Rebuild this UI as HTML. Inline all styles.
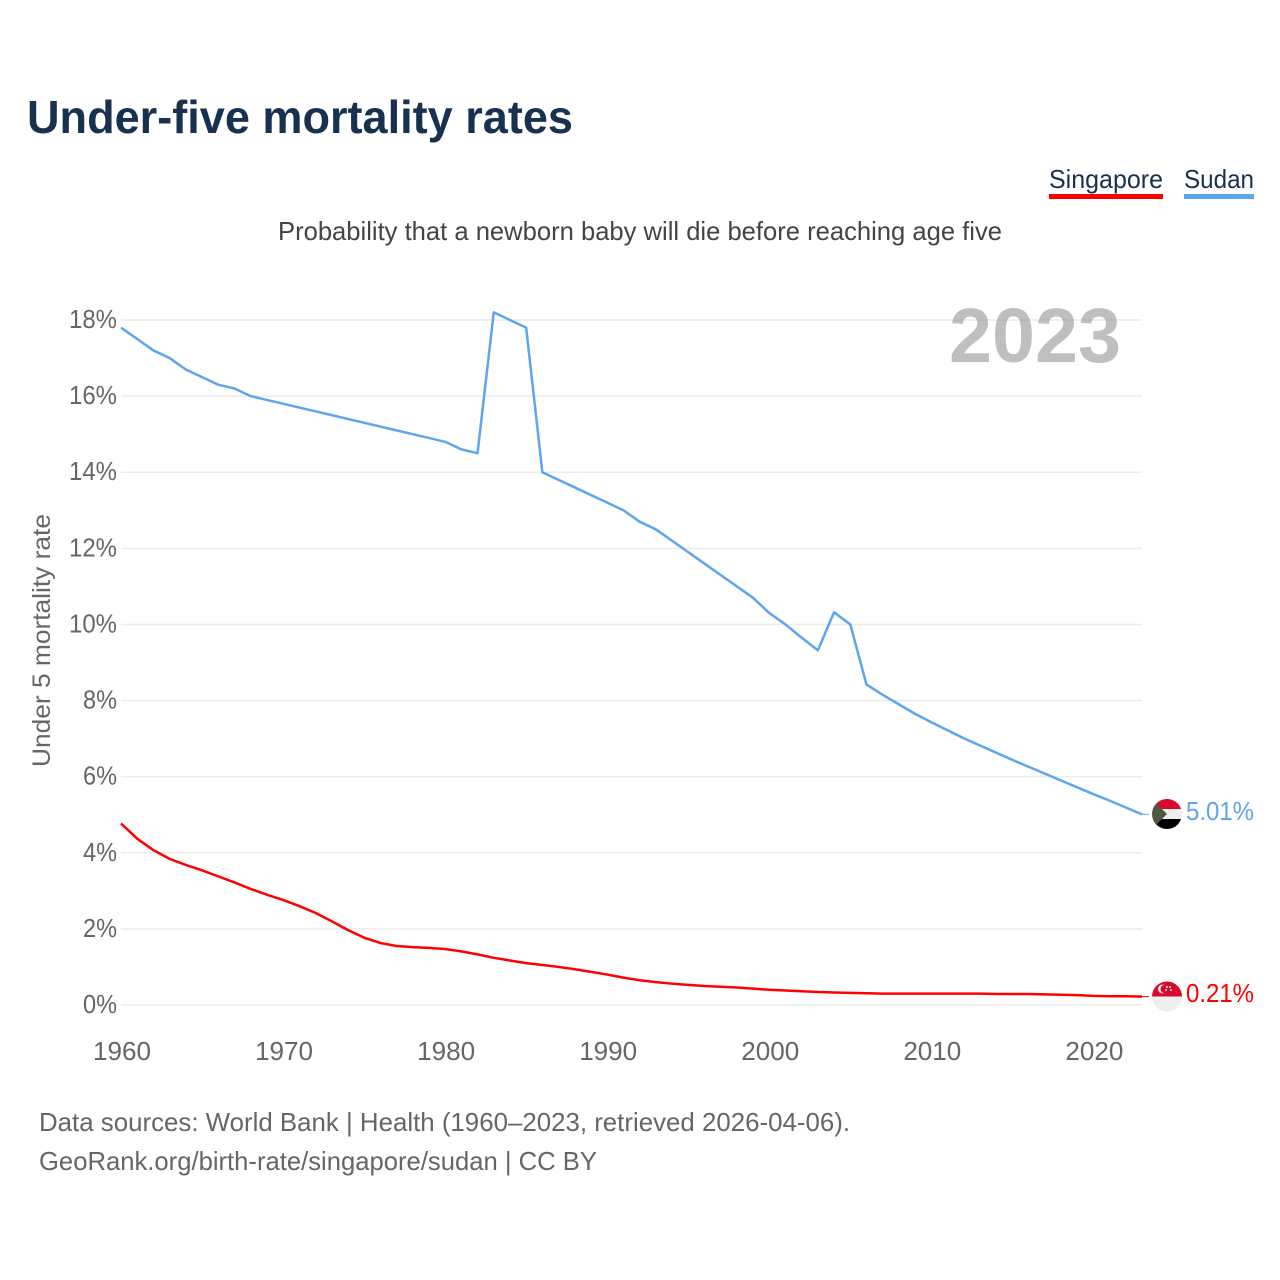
<!DOCTYPE html>
<html lang="en">
<head>
<meta charset="utf-8">
<title>Under-five mortality rates</title>
<style>
html,body{margin:0;padding:0;background:#fff;width:1280px;height:1280px;overflow:hidden}
svg{display:block}
text{font-family:"Liberation Sans",sans-serif}
.tick{font-size:26px;fill:#666}
</style>
</head>
<body>
<svg id="chart" width="1280" height="1280" viewBox="0 0 1280 1280" xmlns="http://www.w3.org/2000/svg">
  <defs>
    <clipPath id="flag-clip-sudan"><circle cx="1167" cy="814" r="15"/></clipPath>
    <clipPath id="flag-clip-singapore"><circle cx="1167" cy="996.500" r="15"/></clipPath>
  </defs>
  <rect x="0" y="0" width="1280" height="1280" fill="#fff"/>
  <text x="27" y="133" font-size="46" font-weight="700" fill="#18314f" textLength="546" lengthAdjust="spacingAndGlyphs">Under-five mortality rates</text>
  <g>
    <text x="1049" y="188" font-size="26" fill="#18314f" textLength="114" lengthAdjust="spacingAndGlyphs">Singapore</text>
    <rect x="1049" y="194" width="114" height="5" fill="#ff0000"/>
  </g>
  <g>
    <text x="1184" y="188" font-size="26" fill="#18314f" textLength="70" lengthAdjust="spacingAndGlyphs">Sudan</text>
    <rect x="1184" y="194" width="70" height="5" fill="#5da6ee"/>
  </g>
  <text x="278" y="240" font-size="26" fill="#444" textLength="724" lengthAdjust="spacingAndGlyphs">Probability that a newborn baby will die before reaching age five</text>
  <text transform="translate(50,767) rotate(-90)" x="0" y="0" font-size="25" fill="#666" textLength="253" lengthAdjust="spacingAndGlyphs">Under 5 mortality rate</text>
  <g id="grid"></g>
  <g id="yticks"></g>
  <g id="xticks"></g>
  <text x="949" y="362" font-size="77" font-weight="700" fill="#777777" fill-opacity="0.47" textLength="172" lengthAdjust="spacingAndGlyphs">2023</text>
  <g id="series"></g>
  <g clip-path="url(#flag-clip-sudan)">
    <rect x="1152" y="799" width="30" height="10" fill="#d9082e"/>
    <rect x="1152" y="809" width="30" height="10" fill="#eeeeee"/>
    <rect x="1152" y="819" width="30" height="10" fill="#000"/>
    <polygon points="1152,799 1167,814 1152,829" fill="#4d5a3f"/>
  </g>
  <g clip-path="url(#flag-clip-singapore)">
    <rect x="1152" y="981.500" width="30" height="15" fill="#d9082e"/>
    <rect x="1152" y="996.500" width="30" height="15" fill="#eeeeee"/>
    <circle cx="1162.500" cy="989" r="4.500" fill="#eee"/>
    <circle cx="1164.500" cy="989" r="4" fill="#d9082e"/>
    <circle cx="1167" cy="987" r="1" fill="#eee"/>
    <circle cx="1170" cy="987" r="1" fill="#eee"/>
    <circle cx="1166" cy="990" r="1" fill="#eee"/>
    <circle cx="1171" cy="990" r="1" fill="#eee"/>
  </g>
  <text x="1186" y="820" font-size="26" fill="#5da6ee" textLength="68" lengthAdjust="spacingAndGlyphs">5.01%</text>
  <text x="1186" y="1002" font-size="26" fill="#ff0000" textLength="68" lengthAdjust="spacingAndGlyphs">0.21%</text>
  <text x="39" y="1131" font-size="26" fill="#666" textLength="811" lengthAdjust="spacingAndGlyphs">Data sources: World Bank | Health (1960–2023, retrieved 2026-04-06).</text>
  <text x="39" y="1170" font-size="26" fill="#666" textLength="558" lengthAdjust="spacingAndGlyphs">GeoRank.org/birth-rate/singapore/sudan | CC BY</text>
</svg>
<script>
const years = [1960,1961,1962,1963,1964,1965,1966,1967,1968,1969,1970,1971,1972,1973,1974,1975,1976,1977,1978,1979,1980,1981,1982,1983,1984,1985,1986,1987,1988,1989,1990,1991,1992,1993,1994,1995,1996,1997,1998,1999,2000,2001,2002,2003,2004,2005,2006,2007,2008,2009,2010,2011,2012,2013,2014,2015,2016,2017,2018,2019,2020,2021,2022,2023];
const sudanValues = [17.8,17.5,17.2,17.0,16.7,16.5,16.3,16.2,16.0,15.9,15.8,15.7,15.6,15.5,15.4,15.3,15.2,15.1,15.0,14.9,14.8,14.6,14.5,18.2,18.0,17.8,14.0,13.8,13.6,13.4,13.2,13.0,12.7,12.5,12.2,11.9,11.6,11.3,11.0,10.7,10.3,10.0,9.65,9.32,10.32,10.0,8.42,8.15,7.9,7.65,7.43,7.22,7.01,6.82,6.63,6.44,6.26,6.08,5.9,5.72,5.54,5.37,5.19,5.01];
const singaporeValues = [4.77,4.37,4.07,3.84,3.68,3.54,3.38,3.22,3.05,2.9,2.76,2.6,2.42,2.2,1.97,1.77,1.63,1.55,1.52,1.5,1.47,1.41,1.33,1.24,1.17,1.1,1.05,1.0,0.94,0.87,0.8,0.72,0.65,0.6,0.56,0.53,0.5,0.48,0.46,0.43,0.4,0.38,0.36,0.34,0.33,0.32,0.31,0.3,0.3,0.3,0.3,0.3,0.3,0.3,0.29,0.29,0.29,0.28,0.27,0.26,0.24,0.23,0.23,0.22];
const yTickValues = [0,2,4,6,8,10,12,14,16,18];
const yTickLabels = ["0%","2%","4%","6%","8%","10%","12%","14%","16%","18%"];
const xTickValues = [1960,1970,1980,1990,2000,2010,2020];
const xTickLabels = ["1960","1970","1980","1990","2000","2010","2020"];

const NS = 'http://www.w3.org/2000/svg';
function xScale(year){ return 121 + (year - 1960) * (1142 - 121) / 63; }
function yScale(pct){ return 1005 - pct * (1005 - 320) / 18; }
const gridGroup = document.getElementById('grid');
const yGroup = document.getElementById('yticks');
const xGroup = document.getElementById('xticks');
const seriesGroup = document.getElementById('series');

yTickValues.forEach(function(v, i){
  const line = document.createElementNS(NS, 'line');
  
  
  line.setAttribute('x1', xScale(1960));
  line.setAttribute('x2', xScale(2023));
  line.setAttribute('y1', yScale(v));
  line.setAttribute('y2', yScale(v));
  line.setAttribute('stroke', '#ececec');
  line.setAttribute('stroke-width', '1.5');
  gridGroup.appendChild(line);
  const label = document.createElementNS(NS, 'text');
  
  
  label.setAttribute('class', 'tick');
  label.setAttribute('x', 117 - (yTickLabels[i].length === 3 ? 48 : 34));
  label.setAttribute('y', yScale(v) + 8);
  label.setAttribute('textLength', yTickLabels[i].length === 3 ? 48 : 34);
  label.setAttribute('lengthAdjust', 'spacingAndGlyphs');
  label.textContent = yTickLabels[i];
  yGroup.appendChild(label);
});

xTickValues.forEach(function(v, i){
  const label = document.createElementNS(NS, 'text');
  
  
  label.setAttribute('class', 'tick');
  label.setAttribute('x', xScale(v) - 28);
  label.setAttribute('y', 1060);
  label.setAttribute('textLength', 58);
  label.setAttribute('lengthAdjust', 'spacingAndGlyphs');
  label.textContent = xTickLabels[i];
  xGroup.appendChild(label);
});

function buildPath(values){
  return values.map(function(v, i){
    return (i ? 'L' : 'M') + xScale(years[i]).toFixed(2) + ' ' + yScale(v).toFixed(2);
  }).join(' ');
}

const sudanLine = document.createElementNS(NS, 'path');


sudanLine.setAttribute('d', buildPath(sudanValues));
sudanLine.setAttribute('fill', 'none');
sudanLine.setAttribute('stroke', '#5da6ee');
sudanLine.setAttribute('stroke-width', '2.5');
sudanLine.setAttribute('stroke-linejoin', 'round');
seriesGroup.appendChild(sudanLine);

const singaporeLine = document.createElementNS(NS, 'path');


singaporeLine.setAttribute('d', buildPath(singaporeValues));
singaporeLine.setAttribute('fill', 'none');
singaporeLine.setAttribute('stroke', '#ff0000');
singaporeLine.setAttribute('stroke-width', '2.5');
singaporeLine.setAttribute('stroke-linejoin', 'round');
seriesGroup.appendChild(singaporeLine);

const sudanConnector = document.createElementNS(NS, 'line');


sudanConnector.setAttribute('x1', xScale(2023));
sudanConnector.setAttribute('x2', xScale(2023) + 7);
sudanConnector.setAttribute('y1', yScale(sudanValues[sudanValues.length - 1]));
sudanConnector.setAttribute('y2', yScale(sudanValues[sudanValues.length - 1]));
sudanConnector.setAttribute('stroke', '#5da6ee');
sudanConnector.setAttribute('stroke-width', '1');
seriesGroup.appendChild(sudanConnector);

const singaporeConnector = document.createElementNS(NS, 'line');


singaporeConnector.setAttribute('x1', xScale(2023));
singaporeConnector.setAttribute('x2', xScale(2023) + 7);
singaporeConnector.setAttribute('y1', yScale(singaporeValues[singaporeValues.length - 1]));
singaporeConnector.setAttribute('y2', yScale(singaporeValues[singaporeValues.length - 1]));
singaporeConnector.setAttribute('stroke', '#ff0000');
singaporeConnector.setAttribute('stroke-width', '1');
seriesGroup.appendChild(singaporeConnector);
</script>
</body>
</html>
